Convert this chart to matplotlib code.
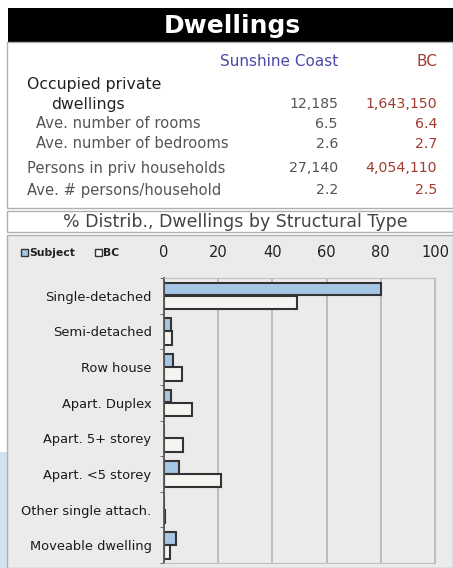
import matplotlib.pyplot as plt
from matplotlib.patches import Rectangle
import numpy as np

plt.rcParams['font.family'] = ['DejaVu Sans']

# table values
row_labels = ['Ave. number of rooms', 'Ave. number of bedrooms']
sc_vals = ['12,185', '6.5', '2.6', '27,140', '2.2']
bc_vals = ['1,643,150', '6.4', '2.7', '4,054,110', '2.5']

# chart values (% of dwellings)
types = ['Single-detached', 'Semi-detached', 'Row house', 'Apart. Duplex',
         'Apart. 5+ storey', 'Apart. <5 storey', 'Other single attach.',
         'Moveable dwelling']
subject = [80, 2.4, 3.4, 2.5, 0, 5.7, 0, 4.3]
bc = [49, 3, 6.5, 10.5, 7, 21, 0.2, 2.3]

W, H = 453, 568
fig = plt.figure(figsize=(W / 100, H / 100), dpi=100)
fig.patch.set_facecolor('white')

def px(x, y):
    return x / W, 1 - y / H

def rect(x0, y0, x1, y1, z=-1, **kw):
    r = Rectangle((x0 / W, 1 - y1 / H), (x1 - x0) / W, (y1 - y0) / H,
                  transform=fig.transFigure, zorder=z, **kw)
    fig.add_artist(r)

def txt(x, y, s, **kw):
    fig.text(*px(x, y), s, va='center', **kw)

# decorative strip at bottom left
rect(0, 452, 8, 568, facecolor='#cfe2ee', edgecolor='none')

# title band
rect(8, 8, 453, 42, facecolor='black', edgecolor='none')
txt(232, 26, 'Dwellings', color='white', fontsize=18, fontweight='bold', ha='center')

# table
rect(7, 42, 453, 208, facecolor='white', edgecolor='#b0b0b0', lw=1)
txt(338, 61, 'Sunshine Coast', color='#4a4aa8', fontsize=11, ha='right')
txt(437, 61, 'BC', color='#a03c30', fontsize=11, ha='right')
txt(27, 85, 'Occupied private', color='#222222', fontsize=11.3, ha='left')
txt(51, 104, 'dwellings', color='#222222', fontsize=11.3, ha='left')
txt(36, 124, row_labels[0], color='#555555', fontsize=10.6, ha='left')
txt(36, 144, row_labels[1], color='#555555', fontsize=10.6, ha='left')
txt(27, 168, 'Persons in priv households', color='#555555', fontsize=10.6, ha='left')
txt(27, 190, 'Ave. # persons/household', color='#555555', fontsize=10.6, ha='left')
val_y = [104, 124, 144, 168, 190]
for y, a, b in zip(val_y, sc_vals, bc_vals):
    txt(338, y, a, color='#555555', fontsize=10.2, ha='right')
    txt(437, y, b, color='#a03c30', fontsize=10.2, ha='right')

# chart header
rect(7, 211, 453, 232, facecolor='white', edgecolor='#b0b0b0', lw=1)
txt(235, 222, '% Distrib., Dwellings by Structural Type', color='#444444',
    fontsize=12.5, ha='center')

# chart panel
rect(7, 235, 453, 568, facecolor='#ebebeb', edgecolor='#b0b0b0', lw=1)

x0, y0 = px(164, 563)
x1, y1 = px(435, 278)
ax = fig.add_axes([x0, y0, x1 - x0, y1 - y0])
ax.set_zorder(5)
ax.set_facecolor('#ebebeb')
pos = np.arange(len(types))
ax.barh(pos - 0.19, subject, height=0.36, color='#a6c6e6', edgecolor='#333333', lw=1.5)
ax.barh(pos + 0.19, bc, height=0.38, color='#f4f4f0', edgecolor='#333333', lw=1.5)
ax.set_xlim(0, 100)
ax.set_ylim(7.5, -0.5)
ax.set_xticks([0, 20, 40, 60, 80, 100])
ax.xaxis.tick_top()
ax.tick_params(axis='x', length=0, pad=13, labelsize=10.5, labelcolor='#222222')
ax.set_yticks(pos)
ax.set_yticklabels(types, fontsize=9.4, color='#1a1a1a')
ax.tick_params(axis='y', length=0, pad=9)
ax.set_yticks(np.arange(-0.5, 8, 1), minor=True)
ax.tick_params(axis='y', which='minor', length=3, color='#555555')
ax.grid(axis='x', color='#b4b4b4', lw=1.2)
ax.set_axisbelow(True)
for s in ['top', 'right', 'bottom']:
    ax.spines[s].set_color('#c0c0c0')
ax.spines['left'].set_color('#555555')
ax.spines['left'].set_linewidth(1.3)

# legend
rect(21, 249, 28, 256, z=6, facecolor='#a6c6e6', edgecolor='#333333', lw=1)
txt(29, 253, 'Subject', color='#222222', fontsize=7.8, fontweight='bold', ha='left')
rect(95, 249, 102, 256, z=6, facecolor='#f4f4f0', edgecolor='#333333', lw=1)
txt(103, 253, 'BC', color='#222222', fontsize=7.8, fontweight='bold', ha='left')

fig.savefig('out.png', dpi=100)
